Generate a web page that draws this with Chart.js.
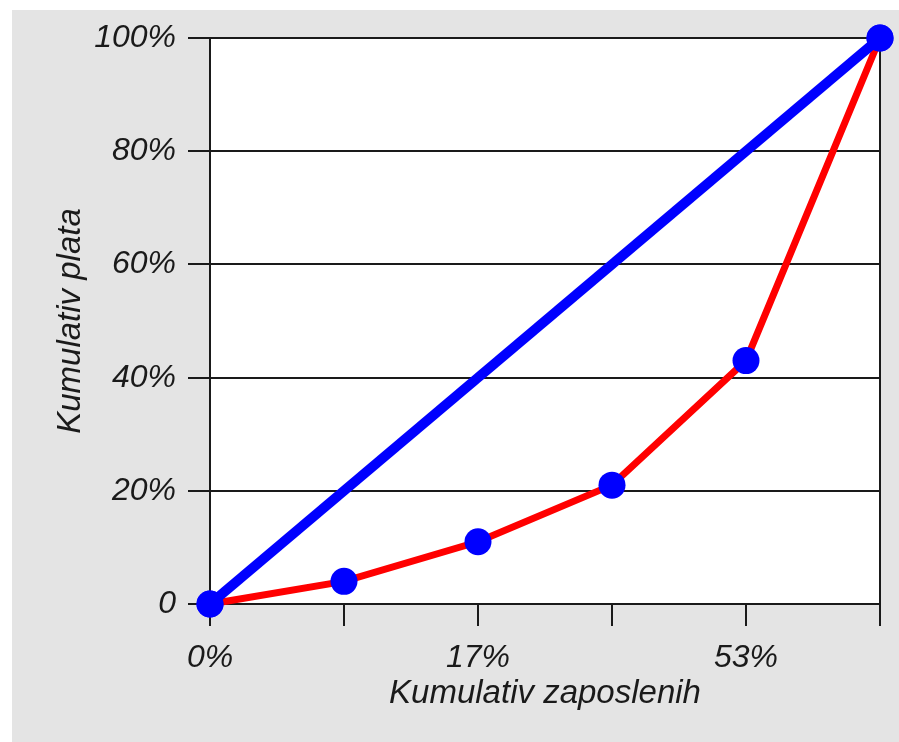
<!DOCTYPE html>
<html lang="sl">
<head>
  <meta charset="UTF-8" />
  <title>Lorenzova krivulja</title>
  <style>
    body {
      margin: 0;
      background: #ffffff;
    }
    #chartBox {
      position: absolute;
      left: 12px;
      top: 10px;
      width: 887px;
      height: 732px;
      background: #e4e4e4;
    }
  </style>
  <script src="https://cdn.jsdelivr.net/npm/chart.js"></script>
</head>
<body>

  <div id="chartBox">
    <canvas id="lorenzChart" width="887" height="732"></canvas>
  </div>

  <script>
    // categories on the x axis (only every other tick is labelled)
    const xLabels = ['0%', '', '17%', '', '53%', ''];

    // cumulative pay (red curve), percent
    const lorenzValues = [0, 4, 11, 21, 43, 100];

    // line of equality (blue), only the two ends
    const equalityValues = [0, null, null, null, null, 100];

    const fontFamily = "'Liberation Sans', Arial, sans-serif";
    const tickFont = { family: fontFamily, size: 32, style: 'italic' };
    const titleFont = { family: fontFamily, size: 33, style: 'italic' };
    const inkColor = '#1a1a1a';

    // white plot area on the grey card
    const plotBackground = {
      id: 'plotBackground',
      beforeDraw(chart) {
        const { ctx, chartArea } = chart;
        ctx.save();
        ctx.fillStyle = '#ffffff';
        ctx.fillRect(chartArea.left, chartArea.top,
                     chartArea.right - chartArea.left, chartArea.bottom - chartArea.top);
        ctx.restore();
      }
    };

    new Chart(document.getElementById('lorenzChart'), {
      type: 'line',
      data: {
        labels: xLabels,
        datasets: [
          {
            label: 'Enakost',
            data: equalityValues,
            spanGaps: true,
            borderColor: '#0000ff',
            borderWidth: 10,
            pointRadius: 13.5,
            pointBorderWidth: 0,
            pointBackgroundColor: '#0000ff',
            clip: false
          },
          {
            label: 'Kumulativ plata',
            data: lorenzValues,
            borderColor: '#ff0000',
            borderWidth: 7,
            pointRadius: 13.5,
            pointBorderWidth: 0,
            pointBackgroundColor: '#0000ff',
            clip: false
          }
        ]
      },
      options: {
        responsive: false,
        animation: false,
        layout: { padding: { left: 0, top: 28, right: 19, bottom: 0 } },
        plugins: {
          legend: { display: false },
          tooltip: { enabled: false }
        },
        scales: {
          x: {
            afterFit: (scale) => {
              scale.height = 138;
              scale.paddingLeft = 0;
              scale.paddingRight = 0;
            },
            border: { color: inkColor, width: 2 },
            grid: {
              // only the right frame line goes through the plot
              color: (ctx) => (ctx.index === xLabels.length - 1 ? inkColor : 'rgba(0,0,0,0)'),
              tickColor: inkColor,
              lineWidth: 2,
              tickLength: 22
            },
            ticks: {
              color: inkColor,
              font: tickFont,
              padding: 13,
              maxRotation: 0,
              autoSkip: false
            },
            title: {
              display: true,
              text: 'Kumulativ zaposlenih',
              color: inkColor,
              font: titleFont,
              padding: { top: 0, bottom: 28 }
            }
          },
          y: {
            min: 0,
            max: 100,
            afterFit: (scale) => {
              scale.width = 198;
              scale.paddingTop = 0;
              scale.paddingBottom = 0;
            },
            border: { color: inkColor, width: 2 },
            grid: {
              color: inkColor,
              tickColor: inkColor,
              lineWidth: 2,
              tickLength: 22
            },
            ticks: {
              stepSize: 20,
              color: inkColor,
              font: tickFont,
              padding: 12,
              callback: (v) => (v === 0 ? '0' : v + '%')
            },
            title: {
              display: true,
              text: 'Kumulativ plata',
              color: inkColor,
              font: titleFont,
              padding: { top: 39, bottom: 0 }
            }
          }
        }
      },
      plugins: [plotBackground]
    });
  </script>
</body>
</html>
